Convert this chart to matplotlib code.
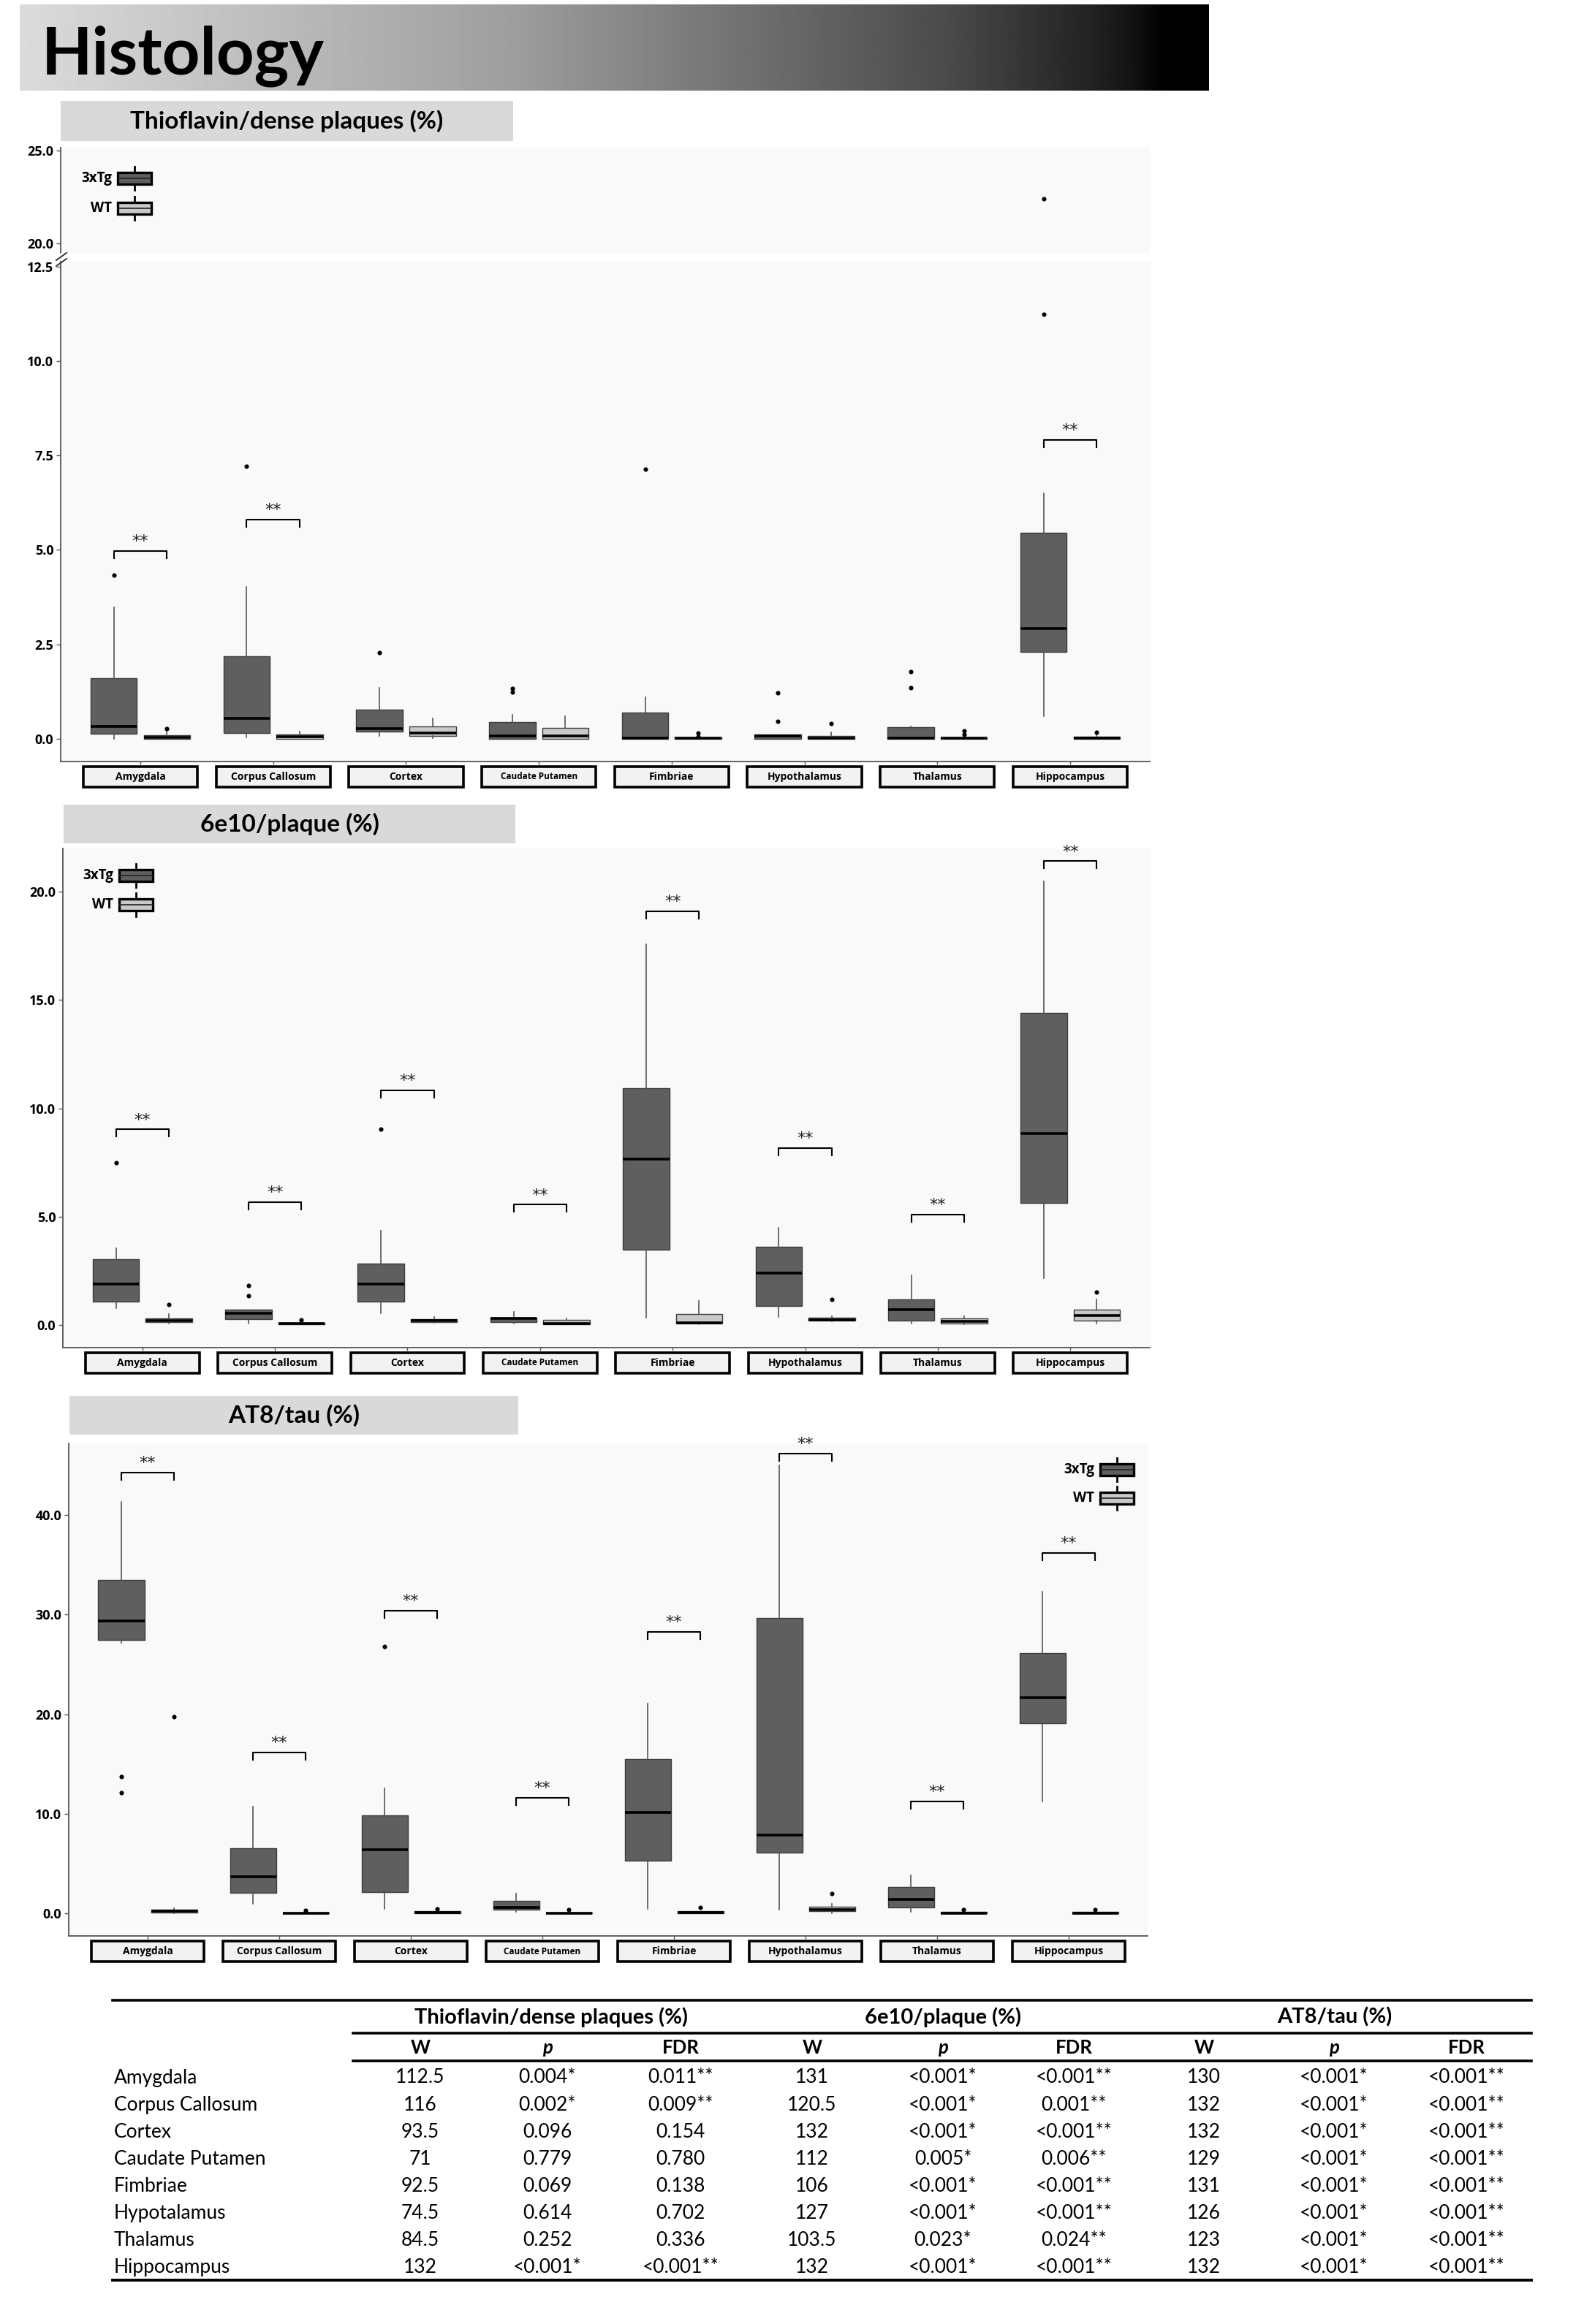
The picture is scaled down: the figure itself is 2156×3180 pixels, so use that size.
#!/usr/bin/env python3
"""Histology figure: three boxplot panels (3xTg vs WT) plus Wilcoxon table."""

import numpy as np
import matplotlib
matplotlib.use("Agg")
import matplotlib.pyplot as plt
from matplotlib.patches import Rectangle
from matplotlib.lines import Line2D
from matplotlib.transforms import blended_transform_factory

W_PX, H_PX = 2156, 3180

REGIONS = ["Amygdala", "Corpus Callosum", "Cortex", "Caudate Putamen",
           "Fimbriae", "Hypothalamus", "Thalamus", "Hippocampus"]

# Thioflavin/dense plaques (%)
thio_tg_q1 = [0.13, 0.16, 0.19, 0.00, 0.00, 0.00, 0.00, 2.30]
thio_tg_med = [0.32, 0.54, 0.27, 0.08, 0.02, 0.07, 0.02, 2.92]
thio_tg_q3 = [1.60, 2.18, 0.78, 0.44, 0.69, 0.12, 0.30, 5.46]
thio_tg_lo = [0.00, 0.04, 0.08, 0.00, 0.00, 0.00, 0.00, 0.60]
thio_tg_hi = [3.49, 4.02, 1.36, 0.63, 1.10, 0.12, 0.32, 6.50]
thio_tg_out = [[4.33], [7.22], [2.29], [1.24, 1.34], [7.14], [0.47, 1.21],
               [1.36, 1.78], [11.24, 22.42]]
thio_wt_q1 = [0.00, 0.00, 0.08, 0.00, 0.00, 0.00, 0.00, 0.00]
thio_wt_med = [0.04, 0.06, 0.16, 0.08, 0.01, 0.02, 0.01, 0.02]
thio_wt_q3 = [0.10, 0.11, 0.32, 0.29, 0.03, 0.08, 0.03, 0.06]
thio_wt_lo = [0.00, 0.00, 0.02, 0.00, 0.00, 0.00, 0.00, 0.00]
thio_wt_hi = [0.20, 0.19, 0.54, 0.60, 0.03, 0.17, 0.03, 0.11]
thio_wt_out = [[0.28], [], [], [], [0.05, 0.15], [0.41], [0.11, 0.21], [0.18]]
thio_sig = [4.97, 5.81, None, None, None, None, None, 7.91]

# 6e10/plaque (%)
e6_tg_q1 = [1.07, 0.28, 1.07, 0.14, 3.48, 0.88, 0.19, 5.64]
e6_tg_med = [1.90, 0.52, 1.90, 0.29, 7.67, 2.40, 0.72, 8.84]
e6_tg_q3 = [3.03, 0.69, 2.84, 0.34, 10.93, 3.60, 1.19, 14.41]
e6_tg_lo = [0.76, 0.07, 0.55, 0.07, 0.34, 0.38, 0.07, 2.17]
e6_tg_hi = [3.53, 0.72, 4.34, 0.59, 17.59, 4.47, 2.28, 20.47]
e6_tg_out = [[7.50], [1.33, 1.81], [9.05], [], [], [], [], []]
e6_wt_q1 = [0.14, 0.03, 0.14, 0.02, 0.07, 0.19, 0.07, 0.21]
e6_wt_med = [0.21, 0.06, 0.21, 0.07, 0.10, 0.24, 0.17, 0.43]
e6_wt_q3 = [0.29, 0.10, 0.28, 0.22, 0.50, 0.34, 0.31, 0.69]
e6_wt_lo = [0.07, 0.03, 0.09, 0.02, 0.03, 0.17, 0.03, 0.07]
e6_wt_hi = [0.50, 0.10, 0.36, 0.29, 1.12, 0.40, 0.40, 1.19]
e6_wt_out = [[0.95], [0.24], [], [], [], [1.19], [], [1.52]]
e6_sig = [9.03, 5.66, 10.83, 5.55, 19.09, 8.16, 5.10, 21.41]

# AT8/tau (%)
at8_tg_q1 = [27.49, 2.10, 2.17, 0.37, 5.28, 6.14, 0.64, 19.10]
at8_tg_med = [29.40, 3.71, 6.44, 0.64, 10.15, 7.90, 1.42, 21.65]
at8_tg_q3 = [33.45, 6.55, 9.89, 1.27, 15.54, 29.70, 2.70, 26.18]
at8_tg_lo = [27.15, 0.97, 0.49, 0.15, 0.49, 0.41, 0.15, 11.27]
at8_tg_hi = [41.30, 10.71, 12.58, 1.99, 21.09, 45.00, 3.86, 32.28]
at8_tg_out = [[12.10, 13.78], [], [26.80], [], [], [], [], []]
at8_wt_q1 = [0.07, 0.00, 0.00, 0.00, 0.00, 0.26, 0.00, 0.00]
at8_wt_med = [0.22, 0.02, 0.08, 0.02, 0.08, 0.41, 0.05, 0.05]
at8_wt_q3 = [0.41, 0.08, 0.22, 0.08, 0.22, 0.67, 0.15, 0.15]
at8_wt_lo = [0.00, 0.00, 0.00, 0.00, 0.00, 0.00, 0.00, 0.00]
at8_wt_hi = [0.52, 0.08, 0.22, 0.08, 0.22, 0.97, 0.15, 0.15]
at8_wt_out = [[19.78], [0.34], [0.45], [0.41], [0.64], [1.99], [0.37], [0.41]]
at8_sig = [44.27, 16.20, 30.40, 11.65, 28.28, 46.18, 11.27, 36.20]

# Table
TABLE_ROWS = ["Amygdala", "Corpus Callosum", "Cortex", "Caudate Putamen",
              "Fimbriae", "Hypotalamus", "Thalamus", "Hippocampus"]
GROUPS = ["Thioflavin/dense plaques (%)", "6e10/plaque (%)", "AT8/tau (%)"]
thio_W = ["112.5", "116", "93.5", "71", "92.5", "74.5", "84.5", "132"]
thio_p = ["0.004*", "0.002*", "0.096", "0.779", "0.069", "0.614", "0.252", "<0.001*"]
thio_fdr = ["0.011**", "0.009**", "0.154", "0.780", "0.138", "0.702", "0.336", "<0.001**"]
e6_W = ["131", "120.5", "132", "112", "106", "127", "103.5", "132"]
e6_p = ["<0.001*", "<0.001*", "<0.001*", "0.005*", "<0.001*", "<0.001*", "0.023*", "<0.001*"]
e6_fdr = ["<0.001**", "0.001**", "<0.001**", "0.006**", "<0.001**", "<0.001**", "0.024**", "<0.001**"]
at8_W = ["130", "132", "132", "129", "131", "126", "123", "132"]
at8_p = ["<0.001*"] * 8
at8_fdr = ["<0.001**"] * 8

TG_COLOR = "#5f5f5f"
WT_COLOR = "#c9c9c9"
PANEL_BG = "#f9f9f9"
FONT = "Open Sans"
TFONT = "Lato"

fig = plt.figure(figsize=(W_PX / 100, H_PX / 100), dpi=100)


def fx(x):
    return x / W_PX


def fy(y):
    return 1 - y / H_PX


def fig_axes(x0, y0, x1, y1):
    return fig.add_axes([fx(x0), fy(y1), (x1 - x0) / W_PX, (y1 - y0) / H_PX])


def fig_line(x0, x1, y, lw):
    fig.add_artist(Line2D([fx(x0), fx(x1)], [fy(y), fy(y)], color="black",
                          lw=lw, transform=fig.transFigure))


def make_stats(q1, med, q3, lo, hi, out):
    return [dict(q1=a, med=b, q3=c, whislo=d, whishi=e, fliers=f)
            for a, b, c, d, e, f in zip(q1, med, q3, lo, hi, out)]


def subtitle(x0, y0, x1, y1, text):
    fig.add_artist(Rectangle((fx(x0), fy(y1)), (x1 - x0) / W_PX, (y1 - y0) / H_PX,
                             transform=fig.transFigure, facecolor="#d9d9d9",
                             edgecolor="none"))
    fig.text(fx((x0 + x1) / 2), fy((y0 + y1) / 2), text, ha="center", va="center",
             fontsize=24, fontweight="bold", family=TFONT)


def legend_glyphs(x_right, y_list):
    # small boxplot glyphs like the ggplot key
    for y, lab, col in zip(y_list, ["3xTg", "WT"], [TG_COLOR, WT_COLOR]):
        x0, x1 = x_right - 46, x_right
        fig.add_artist(Rectangle((fx(x0), fy(y + 8)), 46 / W_PX, 16 / H_PX,
                                 transform=fig.transFigure, facecolor=col,
                                 edgecolor="black", lw=2.4, zorder=5))
        fig.add_artist(Line2D([fx(x0), fx(x1)], [fy(y), fy(y)], color="#222222",
                              lw=1.2, transform=fig.transFigure, zorder=6))
        xm = (x0 + x1) / 2
        for ya, yb in [(y - 16, y - 8), (y + 8, y + 16)]:
            fig.add_artist(Line2D([fx(xm), fx(xm)], [fy(ya), fy(yb)], color="black",
                                  lw=2, transform=fig.transFigure, zorder=6))
        fig.text(fx(x0 - 8), fy(y), lab, ha="right", va="center", fontsize=13.5,
                 fontweight="bold", family=FONT)


def draw_boxes(ax, tg, wt):
    pos = np.arange(len(REGIONS))
    common = dict(widths=0.35, patch_artist=True, showcaps=False,
                  medianprops=dict(color="black", lw=2.6),
                  whiskerprops=dict(color="#555555", lw=1.2),
                  flierprops=dict(marker="o", markersize=3.4, markerfacecolor="black",
                                  markeredgecolor="black"))
    ax.bxp(tg, positions=pos - 0.2,
           boxprops=dict(facecolor=TG_COLOR, edgecolor="#3c3c3c", lw=1.0), **common)
    ax.bxp(wt, positions=pos + 0.2,
           boxprops=dict(facecolor=WT_COLOR, edgecolor="#3c3c3c", lw=1.0), **common)


def style_axes(ax, ylim, yticks, bottom=True):
    ax.set_facecolor(PANEL_BG)
    ax.set_xlim(-0.6, len(REGIONS) - 0.4)
    ax.set_ylim(*ylim)
    ax.set_yticks(yticks)
    ax.set_yticklabels([f"{t:.1f}" for t in yticks], fontsize=13, fontweight="bold",
                       family=FONT)
    for s in ["top", "right"]:
        ax.spines[s].set_visible(False)
    ax.spines["left"].set_color("#555555")
    ax.spines["left"].set_linewidth(1.3)
    ax.tick_params(axis="y", length=4, width=1, color="#555555", pad=3)
    if bottom:
        ax.spines["bottom"].set_color("#555555")
        ax.spines["bottom"].set_linewidth(1.3)
        ax.set_xticks(np.arange(len(REGIONS)))
        ax.set_xticklabels([])
        ax.tick_params(axis="x", length=3, width=1, color="#555555")
    else:
        ax.spines["bottom"].set_visible(False)
        ax.set_xticks([])


def region_labels(ax, h_px):
    tr = blended_transform_factory(ax.transData, ax.transAxes)
    top, bot = -7 / h_px, -35 / h_px
    for i, name in enumerate(REGIONS):
        ax.add_patch(Rectangle((i - 0.43, bot), 0.86, top - bot, transform=tr,
                               facecolor="#f2f2f2", edgecolor="black", lw=2.6,
                               clip_on=False))
        small = name == "Caudate Putamen"
        ax.text(i, (top + bot) / 2, name, transform=tr, ha="center", va="center",
                fontsize=8.5 if small else 10, fontweight="bold", family=FONT)


def brackets(ax, sig, h_px):
    ylo, yhi = ax.get_ylim()
    tip = 10 * (yhi - ylo) / h_px
    for i, yb in enumerate(sig):
        if yb is None:
            continue
        ax.plot([i - 0.2, i - 0.2, i + 0.2, i + 0.2], [yb - tip, yb, yb, yb - tip],
                color="black", lw=1.5, clip_on=False, zorder=4)
        ax.annotate("**", xy=(i, yb), xytext=(0, 2), textcoords="offset points",
                    ha="center", va="bottom", fontsize=16, family="DejaVu Sans",
                    color="#222222")


# ---- banner ----
ax_b = fig_axes(27, 6, 1654, 124)
stop_px = [27, 700, 1300, 1500, 1552, 1592, 1654]
stop_val = [0.86, 0.62, 0.29, 0.13, 0.07, 0.0, 0.0]
ramp = np.interp(np.arange(27, 1654), stop_px, stop_val)[None, :]
ax_b.imshow(ramp, aspect="auto", cmap="gray", vmin=0, vmax=1, extent=[0, 1, 0, 1])
ax_b.axis("off")
fig.text(fx(57), fy(101), "Histology", ha="left", va="baseline", fontsize=65,
         fontweight="bold", family=TFONT)

# ---- panel 1: thioflavin (broken axis) ----
subtitle(83, 138, 702, 193, GROUPS[0])
tg1 = make_stats(thio_tg_q1, thio_tg_med, thio_tg_q3, thio_tg_lo, thio_tg_hi, thio_tg_out)
wt1 = make_stats(thio_wt_q1, thio_wt_med, thio_wt_q3, thio_wt_lo, thio_wt_hi, thio_wt_out)
ax1u = fig_axes(83, 202, 1573, 346)
ax1l = fig_axes(83, 358, 1573, 1042)
for a in (ax1u, ax1l):
    draw_boxes(a, tg1, wt1)
style_axes(ax1u, (19.5, 25.15), [20.0, 25.0], bottom=False)
style_axes(ax1l, (-0.6, 12.63), [0.0, 2.5, 5.0, 7.5, 10.0, 12.5])
region_labels(ax1l, 1042 - 358)
brackets(ax1l, thio_sig, 1042 - 358)
legend_glyphs(207, [244, 285])
# break marks
for dy in (0, 8):
    fig.add_artist(Line2D([fx(77), fx(91)], [fy(356 + dy), fy(346 + dy)], color="#333333",
                          lw=1.4, transform=fig.transFigure))

# ---- panel 2: 6e10 ----
subtitle(87, 1101, 705, 1154, GROUPS[1])
ax2 = fig_axes(86, 1161, 1573, 1844)
draw_boxes(ax2,
           make_stats(e6_tg_q1, e6_tg_med, e6_tg_q3, e6_tg_lo, e6_tg_hi, e6_tg_out),
           make_stats(e6_wt_q1, e6_wt_med, e6_wt_q3, e6_wt_lo, e6_wt_hi, e6_wt_out))
style_axes(ax2, (-1.05, 22.0), [0.0, 5.0, 10.0, 15.0, 20.0])
region_labels(ax2, 1844 - 1161)
brackets(ax2, e6_sig, 1844 - 1161)
legend_glyphs(209, [1198, 1238])

# ---- panel 3: AT8 ----
subtitle(95, 1910, 709, 1963, GROUPS[2])
ax3 = fig_axes(94, 1975, 1570, 2649)
draw_boxes(ax3,
           make_stats(at8_tg_q1, at8_tg_med, at8_tg_q3, at8_tg_lo, at8_tg_hi, at8_tg_out),
           make_stats(at8_wt_q1, at8_wt_med, at8_wt_q3, at8_wt_lo, at8_wt_hi, at8_wt_out))
style_axes(ax3, (-2.25, 47.2), [0.0, 10.0, 20.0, 30.0, 40.0])
region_labels(ax3, 2649 - 1975)
brackets(ax3, at8_sig, 2649 - 1975)
legend_glyphs(1551, [2011, 2050])

# ---- table ----
col_x = [575, 749, 931, 1111, 1290, 1469, 1647, 1825, 2006]
group_x = [754, 1290, 1826]
columns = [thio_W, thio_p, thio_fdr, e6_W, e6_p, e6_fdr, at8_W, at8_p, at8_fdr]
fig_line(154, 2095, 2737, 2.6)
for gx, g in zip(group_x, GROUPS):
    fig.text(fx(gx), fy(2760), g, ha="center", va="center", fontsize=21,
             fontweight="bold", family=TFONT)
fig_line(483, 2095, 2782, 2.6)
for j, cx in enumerate(col_x):
    lab = ["W", "p", "FDR"][j % 3]
    fig.text(fx(cx), fy(2802), lab, ha="center", va="center", fontsize=18.5,
             fontweight="bold", family=TFONT, style="italic" if lab == "p" else "normal")
fig_line(483, 2095, 2820, 2.6)
for i, name in enumerate(TABLE_ROWS):
    y = 2843 + i * 37.1
    fig.text(fx(156), fy(y), name, ha="left", va="center", fontsize=19, family=TFONT)
    for cx, col in zip(col_x, columns):
        fig.text(fx(cx), fy(y), col[i], ha="center", va="center", fontsize=19,
                 family=TFONT)
fig_line(154, 2095, 3120, 2.8)

fig.savefig("out.png", dpi=100)
plt.close(fig)
